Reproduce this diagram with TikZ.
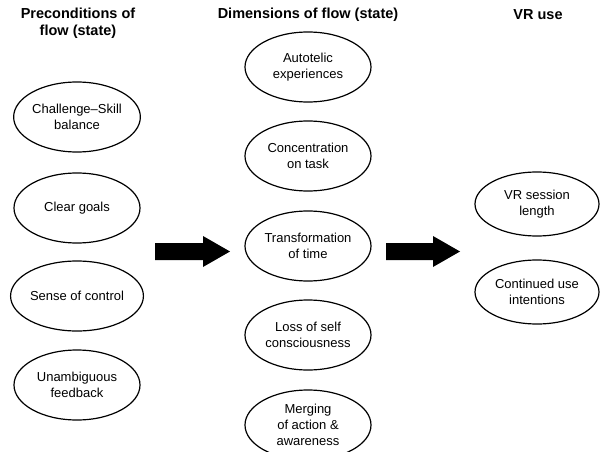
\documentclass[tikz,border=0pt]{standalone}
\usepackage{fontspec}
\setmainfont{Liberation Sans}
\usetikzlibrary{shapes.geometric}
\begin{document}
\begin{tikzpicture}[x=1pt,y=-1pt,
  oval/.style={draw=black,line width=1.2pt,ellipse,minimum width=126pt,minimum height=70pt,inner sep=0pt,align=center,font=\fontsize{13}{16}\selectfont},
  vroval/.style={oval,minimum width=124pt,minimum height=64pt},
  head/.style={align=center,font=\fontsize{14.5}{17}\selectfont\bfseries},
  blockarrow/.style={fill=black}]
\useasboundingbox (0,0) rectangle (600,452);
% headers
\node[head] (h1) at (78,23) {Preconditions of\\flow (state)};
\node[head] (h2) at (308,15) {Dimensions of flow (state)};
\node[head] (h3) at (538,15) {VR use};
% left column
\node[oval] (p1) at (77,117) {Challenge–Skill\\balance};
\node[oval] (p2) at (77,208) {Clear goals};
\node[oval] (p3) at (77,296) {Sense of control};
\node[oval] (p4) at (77,385) {Unambiguous\\feedback};
% middle column
\node[oval] (d1) at (308,67) {Autotelic\\experiences};
\node[oval] (d2) at (308,156) {Concentration\\on task};
\node[oval] (d3) at (308,246) {Transformation\\of time};
\node[oval] (d4) at (308,335) {Loss of self\\consciousness};
\node[oval] (d5) at (308,425) {Merging\\of action \&\\awareness};
% right column
\node[vroval] (v1) at (537,204) {VR session\\length};
\node[vroval] (v2) at (537,292) {Continued use\\intentions};
% block arrows
\coordinate (a1s) at (155,251.5);
\coordinate (a1t) at (230,251.5);
\coordinate (a2s) at (386,251.5);
\coordinate (a2t) at (460,251.5);
\fill[blockarrow] ([yshift=8.5pt]a1s) -- (203,243) -- (203,236) -- (a1t) -- (203,267) -- (203,260) -- ([yshift=-8.5pt]a1s) -- cycle;
\fill[blockarrow] ([yshift=8.5pt]a2s) -- (433,243) -- (433,236) -- (a2t) -- (433,267) -- (433,260) -- ([yshift=-8.5pt]a2s) -- cycle;
\end{tikzpicture}
\end{document}
